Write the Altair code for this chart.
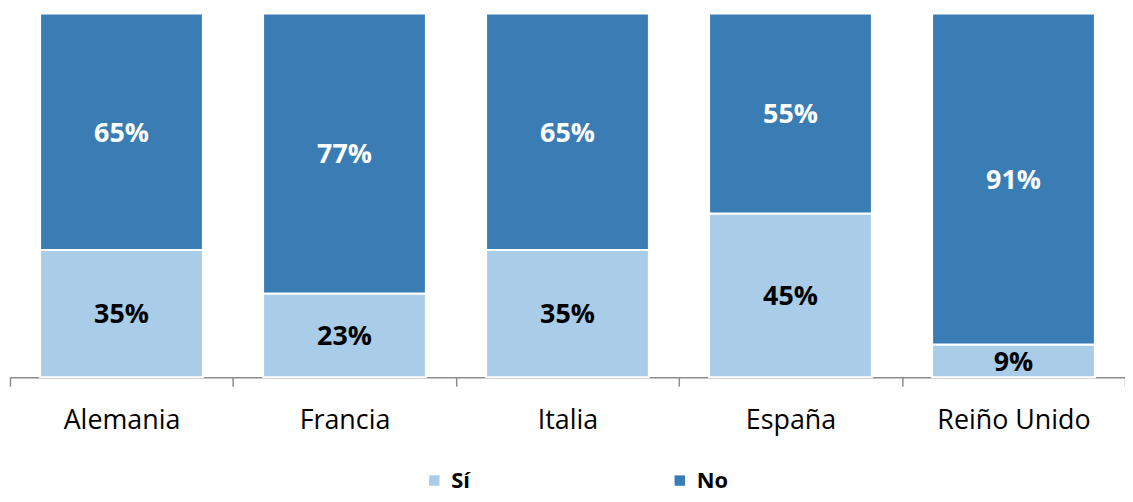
import altair as alt
import pandas as pd

countries = ["Alemania", "Francia", "Italia", "España", "Reiño Unido"]
si_values = [35, 23, 35, 45, 9]
no_values = [65, 77, 65, 55, 91]
series = ["Sí", "No"]
colors = ["#a9cde9", "#3a7db4"]
text_colors = ["#000000", "#ffffff"]

rows = []
for c, s, n in zip(countries, si_values, no_values):
    rows.append({"country": c, "answer": "Sí", "value": s, "ord": 0, "label": f"{s}%"})
    rows.append({"country": c, "answer": "No", "value": n, "ord": 1, "label": f"{n}%"})
df = pd.DataFrame(rows)

xscale = alt.Scale(paddingInner=0, paddingOuter=0)
x = alt.X("country:N", sort=countries, title=None, scale=xscale,
          axis=alt.Axis(labelAngle=0, labelFont="Open Sans", labelFontSize=27,
                        labelColor="#000000", labelPadding=22, tickBand="extent",
                        tickSize=9, tickColor="#8c8c8c", domainColor="#8c8c8c",
                        domainWidth=1.5, tickWidth=1.5, grid=False))
y = alt.Y("value:Q", stack="zero", title=None,
          scale=alt.Scale(domain=[0, 100], nice=False), axis=None)

bars = alt.Chart(df).mark_bar(stroke="white", strokeWidth=2,
                              width=alt.RelativeBandSize(0.73)).encode(
    x=x, y=y,
    color=alt.Color("answer:N", scale=alt.Scale(domain=series, range=colors),
                    legend=alt.Legend(title=None, orient="none", direction="horizontal",
                                      legendX=416, legendY=459,
                                      symbolType="square", symbolSize=110,
                                      symbolStrokeWidth=0,
                                      labelFont="Open Sans", labelFontSize=22,
                                      labelFontWeight="bold", labelColor="#000000",
                                      columnPadding=200, labelOffset=6)),
    order=alt.Order("ord:Q"),
)

labels = alt.Chart(df).transform_stack(
    stack="value", groupby=["country"], as_=["y0", "y1"], sort=[alt.SortField("ord")]
).transform_calculate(mid="(datum.y0 + datum.y1) / 2").mark_text(
    font="Open Sans", fontSize=27, fontWeight="bold", baseline="middle", dy=2
).encode(
    x=alt.X("country:N", sort=countries, scale=xscale),
    y=alt.Y("mid:Q", scale=alt.Scale(domain=[0, 100], nice=False)),
    text="label:N",
    color=alt.Color("answer:N", scale=alt.Scale(domain=series, range=text_colors), legend=None),
)

chart = alt.layer(bars, labels).resolve_scale(color="independent").properties(
    width=1122, height=366,
    autosize=alt.AutoSizeParams(type="none"),
    padding={"left": 2, "top": 4, "right": 0, "bottom": 116},
).configure_view(stroke=None)

chart.save("out.html", embed_options={"renderer": "svg", "actions": False})
